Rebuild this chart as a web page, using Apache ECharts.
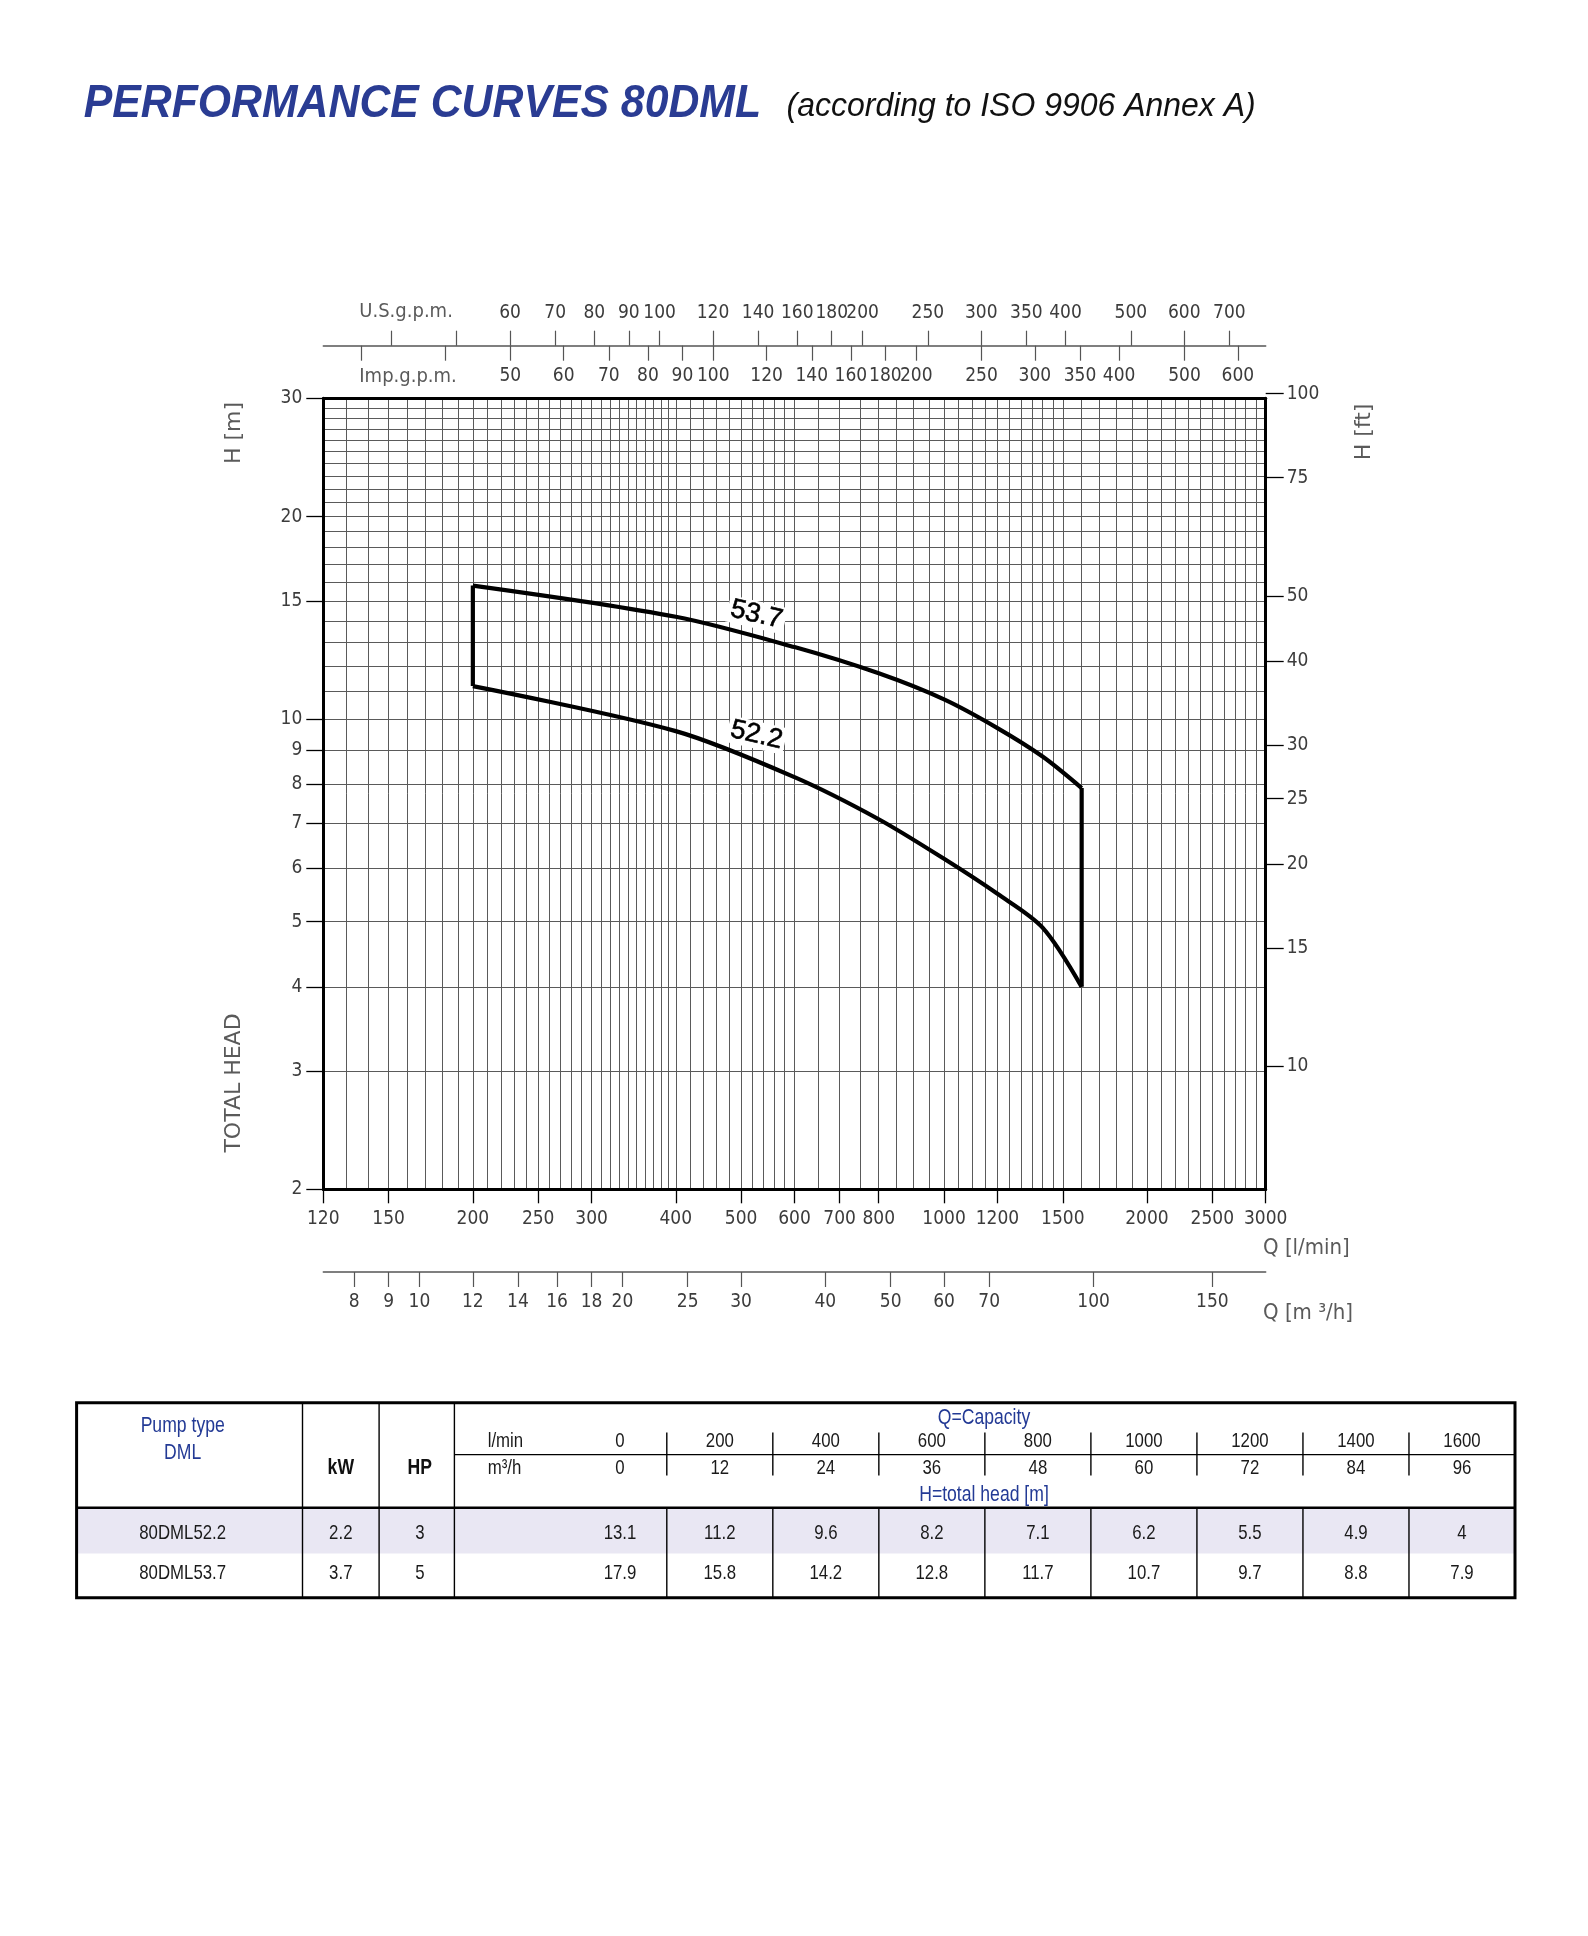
<!DOCTYPE html>
<html><head><meta charset="utf-8">
<script src="https://cdn.jsdelivr.net/npm/echarts@6/dist/echarts.min.js"></script>
<style>html,body{margin:0;padding:0;background:#fff}#c{width:1588px;height:1936px}</style>
</head><body><div id="c"></div>
<script>
// ---------- data ----------
const qLmin = [0, 200, 400, 600, 800, 1000, 1200, 1400, 1600];
const qM3h = [0, 12, 24, 36, 48, 60, 72, 84, 96];
const pumpNames = ['80DML52.2', '80DML53.7'];
const pumpKW = ['2.2', '3.7'];
const pumpHP = ['3', '5'];
const head522 = [13.1, 11.2, 9.6, 8.2, 7.1, 6.2, 5.5, 4.9, 4];
const head537 = [17.9, 15.8, 14.2, 12.8, 11.7, 10.7, 9.7, 8.8, 7.9];
const curveLabels = [
  { name: '53.7', q: 527, h: 14.3 },
  { name: '52.2', q: 527, h: 9.47 }
];
// tick / grid values
const qTicks = [120, 150, 200, 250, 300, 400, 500, 600, 700, 800, 1000, 1200, 1500, 2000, 2500, 3000];
const gridQ = [130,140,150,160,170,180,190,200,210,220,230,240,250,260,270,280,290,300,310,320,330,340,350,360,370,380,390,400,
  420,440,460,480,500,520,540,560,580,600,650,700,750,800,850,900,950,1000,1050,1100,1150,1200,1250,1300,1350,1400,1450,1500,
  1600,1700,1800,1900,2000,2100,2200,2300,2400,2500,2600,2700,2800,2900];
const hTicks = [2, 3, 4, 5, 6, 7, 8, 9, 10, 15, 20, 30];
const gridH = [3,4,5,6,7,8,9,10,11,12,13,14,15,16,17,18,19,20,21,22,23,24,25,26,27,28,29];
const ftTicks = [10, 15, 20, 25, 30, 40, 50, 75, 100];
const usTicks = [40, 50, 60, 70, 80, 90, 100, 120, 140, 160, 180, 200, 250, 300, 350, 400, 500, 600, 700];
const usLabels = [60, 70, 80, 90, 100, 120, 140, 160, 180, 200, 250, 300, 350, 400, 500, 600, 700];
const impTicks = [30, 40, 50, 60, 70, 80, 90, 100, 120, 140, 160, 180, 200, 250, 300, 350, 400, 500, 600];
const impLabels = [50, 60, 70, 80, 90, 100, 120, 140, 160, 180, 200, 250, 300, 350, 400, 500, 600];
const m3hTicks = [8, 9, 10, 12, 14, 16, 18, 20, 25, 30, 40, 50, 60, 70, 100, 150];

// unit conversions
const L_PER_USGAL = 3.78541, L_PER_IMPGAL = 4.54609, LMIN_PER_M3H = 1000 / 60, FT_PER_M = 3.28084;
const Q_MIN = 120, Q_MAX = 3000, H_MIN = 2, H_MAX = 30;

// ---------- layout ----------
const G = { left: 323.3, top: 398.3, width: 942.4, height: 791 };
const pxPerDecH = G.height / Math.log10(H_MAX / H_MIN);
const FT_MAX = 100;
const ftExtra = Math.log10(FT_MAX / FT_PER_M / H_MAX) * pxPerDecH;

const tickFont = "'Liberation Sans Narrow','DejaVu Sans Condensed',sans-serif";
const fmt = v => String(Math.round(v * 100) / 100);
const labelStyle = { fontFamily: tickFont, fontSize: 19, color: '#3c3c3c', formatter: fmt };
const gridLine = { show: true, lineStyle: { color: '#5a5a5a', width: 1 } };
const none = { show: false };
const noLine = { show: false, onZero: false };

function logAxis(extra) {
  return Object.assign({ type: 'log', logBase: 10, gridIndex: 0, min: Q_MIN, max: Q_MAX,
    axisLine: noLine, axisTick: none, axisLabel: none, splitLine: none }, extra);
}

const curveUpper = qLmin.slice(1).map((q, i) => [q, head537[i + 1]]);
const curveLower = qLmin.slice(1).map((q, i) => [q, head522[i + 1]]);
const edgeLeft = [[qLmin[1], head522[1]], [qLmin[1], head537[1]]];
const edgeRight = [[qLmin[8], head537[8]], [qLmin[8], head522[8]]];

const lineStyleCurve = { color: '#000', width: 4.2, join: 'miter' };

// ---------- table graphics ----------
const T = { left: 76.6, right: 1515, top: 1402.7, headBottom: 1507.7, row1Bottom: 1553.4, bottom: 1597.8 };
const fixedCols = [302.5, 379.1, 454.4];
const firstValEnd = 666.8;
const valStep = (T.right - firstValEnd) / 8;
const vb = []; for (let k = 0; k <= 8; k++) vb.push(firstValEnd + k * valStep);
const valCenter = i => i === 0 ? 620 : firstValEnd + (i - 0.5) * valStep;
const tFont = "'Liberation Sans', Arial, sans-serif";
const blue = '#233a95';
const g = [];
function txt(x, y, text, opt) {
  opt = opt || {};
  g.push({ type: 'text', x: x, y: y, z: 20, rotation: opt.rot || 0, scaleX: opt.sx || 1, scaleY: opt.sy || 1,
    style: { text: text, fill: opt.color || '#1a1a1a', font: opt.font || ('21px ' + tFont),
      align: opt.align || 'center', verticalAlign: 'middle' } });
}
function ln(x1, y1, x2, y2, w) {
  g.push({ type: 'line', z: 20, shape: { x1, y1, x2, y2 }, style: { stroke: '#000', lineWidth: w || 1.4 } });
}
g.push({ type: 'rect', z: 19, shape: { x: T.left, y: T.headBottom, width: T.right - T.left, height: T.row1Bottom - T.headBottom },
  style: { fill: '#e9e7f3' } });
g.push({ type: 'rect', z: 21, shape: { x: T.left, y: T.top, width: T.right - T.left, height: T.bottom - T.top },
  style: { fill: 'none', stroke: '#000', lineWidth: 3 } });
ln(T.left, T.headBottom, T.right, T.headBottom, 2.6);
fixedCols.forEach(x => ln(x, T.top, x, T.bottom, 1.4));
for (let k = 0; k < 8; k++) {
  ln(vb[k], T.headBottom, vb[k], T.bottom, 1.4);
  ln(vb[k], 1432.4, vb[k], 1475.6, 1.4);
}
ln(fixedCols[2], 1454.6, T.right, 1454.6, 1.2);
const SX = 0.8;
txt(182.7, 1426, 'Pump type', { color: blue, font: '22px ' + tFont, sx: SX });
txt(182.7, 1453, 'DML', { color: blue, font: '22px ' + tFont, sx: SX });
txt(340.8, 1468, 'kW', { font: 'bold 22px ' + tFont, sx: SX, color: '#111' });
txt(419.8, 1468, 'HP', { font: 'bold 22px ' + tFont, sx: SX, color: '#111' });
txt(984, 1418, 'Q=Capacity', { color: blue, font: '22px ' + tFont, sx: SX });
txt(984, 1495, 'H=total head [m]', { color: blue, font: '22px ' + tFont, sx: SX });
txt(487.7, 1441, 'l/min', { align: 'left', sx: SX });
txt(487.7, 1468, 'm³/h', { align: 'left', sx: SX });
qLmin.forEach((v, i) => txt(valCenter(i), 1441, String(v), { sx: SX }));
qM3h.forEach((v, i) => txt(valCenter(i), 1468, String(v), { sx: SX }));
const rowsY = [1533.6, 1573];
[head522, head537].forEach((arr, r) => {
  txt(182.7, rowsY[r], pumpNames[r], { sx: SX });
  txt(340.8, rowsY[r], pumpKW[r], { sx: SX });
  txt(419.8, rowsY[r], pumpHP[r], { sx: SX });
  arr.forEach((v, i) => txt(valCenter(i), rowsY[r], String(v), { sx: SX }));
});

// titles and axis names
txt(83.7, 104, 'PERFORMANCE CURVES 80DML', { align: 'left', color: '#2a3c93', sx: 0.93,
  font: 'italic bold 46px "Liberation Sans", Arial, sans-serif' });
txt(786.6, 107, '(according to ISO 9906 Annex A)', { align: 'left', color: '#111', sx: 0.94,
  font: 'italic 34px "Liberation Sans", Arial, sans-serif' });
const nameFont = "22px 'DejaVu Sans', sans-serif";
const nameColor = '#5a5a5a';
txt(234.6, 433, 'H [m]', { rot: Math.PI / 2, color: nameColor, font: nameFont });
txt(234.6, 1083, 'TOTAL HEAD', { rot: Math.PI / 2, color: nameColor, font: nameFont });
txt(1364.5, 432, 'H [ft]', { rot: Math.PI / 2, color: nameColor, font: nameFont });
txt(1263, 1248, 'Q [l/min]', { align: 'left', color: nameColor, font: nameFont, sx: 0.9 });
txt(1263, 1313, 'Q [m ³/h]', { align: 'left', color: nameColor, font: nameFont, sx: 0.9 });
txt(359.3, 312, 'U.S.g.p.m.', { align: 'left', color: nameColor, font: '20px ' + tickFont });
txt(359.3, 377, 'Imp.g.p.m.', { align: 'left', color: nameColor, font: '20px ' + tickFont });

const chart = echarts.init(document.getElementById('c'), null, { renderer: 'canvas' });
chart.setOption({
  animation: false,
  backgroundColor: '#fff',
  grid: [
    Object.assign({ outerBoundsMode: 'none', containLabel: false }, G),
    { outerBoundsMode: 'none', containLabel: false, left: G.left, width: G.width, top: G.top - ftExtra, height: G.height + ftExtra }
  ],
  xAxis: [
    logAxis({ axisTick: { show: false, customValues: gridQ }, splitLine: gridLine }),
    logAxis({ position: 'bottom', z: 5,
      axisLine: { show: true, onZero: false, lineStyle: { color: '#000', width: 3 } },
      axisTick: { show: true, customValues: qTicks, length: 14, lineStyle: { color: '#000', width: 1.3 } },
      axisLabel: Object.assign({ show: true, customValues: qTicks, margin: 20, hideOverlap: false }, labelStyle) }),
    logAxis({ position: 'top', z: 5, axisLine: { show: true, onZero: false, lineStyle: { color: '#000', width: 3 } } }),
    logAxis({ position: 'top', offset: 52.6, min: Q_MIN / L_PER_USGAL, max: Q_MAX / L_PER_USGAL,
      axisLine: { show: true, onZero: false, lineStyle: { color: '#555', width: 1.5 } },
      axisTick: { show: true, customValues: usTicks, length: 15, lineStyle: { color: '#555', width: 1.2 } },
      axisLabel: Object.assign({ show: true, customValues: usLabels, margin: 23, hideOverlap: false }, labelStyle) }),
    logAxis({ position: 'top', offset: 52.6, min: Q_MIN / L_PER_IMPGAL, max: Q_MAX / L_PER_IMPGAL,
      axisTick: { show: true, inside: true, customValues: impTicks, length: 15, lineStyle: { color: '#555', width: 1.2 } },
      axisLabel: Object.assign({ show: true, inside: true, customValues: impLabels, margin: 21, hideOverlap: false }, labelStyle) }),
    logAxis({ position: 'bottom', offset: 82.7, min: Q_MIN / LMIN_PER_M3H, max: Q_MAX / LMIN_PER_M3H,
      axisLine: { show: true, onZero: false, lineStyle: { color: '#555', width: 1.5 } },
      axisTick: { show: true, customValues: m3hTicks, length: 15, lineStyle: { color: '#555', width: 1.2 } },
      axisLabel: Object.assign({ show: true, customValues: m3hTicks, margin: 21, hideOverlap: false }, labelStyle) }),
    { type: 'value', gridIndex: 1, show: false, min: 0, max: 1 }
  ],
  yAxis: [
    logAxis({ min: H_MIN, max: H_MAX, axisTick: { show: false, customValues: gridH }, splitLine: gridLine }),
    logAxis({ min: H_MIN, max: H_MAX, position: 'left', z: 5,
      axisLine: { show: true, onZero: false, lineStyle: { color: '#000', width: 3 } },
      axisTick: { show: true, customValues: hTicks, length: 17, lineStyle: { color: '#000', width: 1.3 } },
      axisLabel: Object.assign({ show: true, customValues: hTicks, margin: 21, hideOverlap: false }, labelStyle) }),
    logAxis({ min: H_MIN, max: H_MAX, position: 'right', z: 5,
      axisLine: { show: true, onZero: false, lineStyle: { color: '#000', width: 3 } } }),
    logAxis({ gridIndex: 1, min: H_MIN * FT_PER_M, max: FT_MAX, position: 'right',
      axisLine: { show: false, onZero: false },
      axisTick: { show: true, customValues: ftTicks, length: 18, lineStyle: { color: '#000', width: 1.3 } },
      axisLabel: Object.assign({ show: true, customValues: ftTicks, margin: 21, hideOverlap: false }, labelStyle) })
  ],
  series: [
    { type: 'line', name: '53.7', data: curveUpper, smooth: 0.3, symbol: 'none', lineStyle: lineStyleCurve, z: 3 },
    { type: 'line', name: '52.2', data: curveLower, smooth: 0.3, symbol: 'none', lineStyle: lineStyleCurve, z: 3 },
    { type: 'line', data: edgeLeft, symbol: 'none', lineStyle: lineStyleCurve, z: 3 },
    { type: 'line', data: edgeRight, symbol: 'none', lineStyle: lineStyleCurve, z: 3 },
    { type: 'scatter', data: curveLabels.map(d => ({ name: d.name, value: [d.q, d.h] })),
      symbolSize: 1, itemStyle: { color: 'transparent' }, z: 6,
      label: { show: true, position: 'inside', formatter: '{b}', rotate: -13, fontSize: 27,
        fontFamily: "'Liberation Sans', Arial, sans-serif", color: '#000', opacity: 1,
        textBorderColor: '#000', textBorderWidth: 0.6,
        backgroundColor: '#fff', padding: [0, 3] } }
  ],
  graphic: { elements: g }
});
</script></body></html>
